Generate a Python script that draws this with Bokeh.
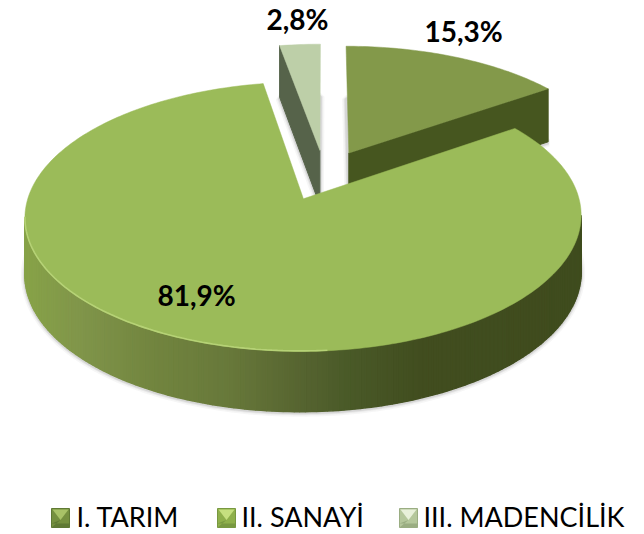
import numpy as np
from bokeh.plotting import figure
from bokeh.models import Range1d
from bokeh.core.properties import value
from bokeh.embed import file_html
from bokeh.resources import INLINE

categories = ["I. TARIM", "II. SANAYİ", "III. MADENCİLİK"]
shares = [15.3, 81.9, 2.8]
share_labels = ["15,3%", "81,9%", "2,8%"]

# colours
top_colors = ["#83994A", "#9BBB59", "#BDCFA8"]
cut_colors = ["#46561F", "#46561F", "#56634A"]
swatch_light = ["#A8C267", "#C6E07F", "#E8F0DA"]
swatch_mid = ["#75903F", "#8FB04B", "#B5C79C"]
swatch_dark = ["#5F7934", "#789840", "#9AAD82"]

# projection of the pie plane on the page (pixels)
CX, CY, A, B, K, EXPLODE, THICK = 324.0, 174.4, 269.0, 126.0, 0.13, 0.2, 55.5


def project(u, v):
    w = 1 + K * v
    return CX + A * u / w, CY - B * v / w, THICK * np.sqrt(1 / w)


def slice_geometry(start, end):
    mid = np.radians((start + end) / 2)
    ou, ov = EXPLODE * np.sin(mid), EXPLODE * np.cos(mid)
    th = np.radians(np.arange(start, end + 0.5, 1.0))
    th = np.append(th[th < np.radians(end)], np.radians(end))
    ax, ay, ad = project(ou, ov)
    rx, ry, rd = project(ou + np.sin(th), ov + np.cos(th))
    return (ax, ay, ad), (rx, ry, rd), th


def lerp_color(x, stops):
    xs = [s[0] for s in stops]
    cols = np.array([[int(s[1][i:i + 2], 16) for i in (1, 3, 5)] for s in stops], float)
    c = [np.interp(x, xs, cols[:, i]) for i in range(3)]
    return "#%02x%02x%02x" % tuple(int(round(v)) for v in c)


side_stops = [(26, "#87A248"), (80, "#80954A"), (150, "#72853F"), (230, "#67783A"),
              (300, "#566430"), (345, "#4A5A28"), (420, "#414D1F"), (590, "#3F4C1E")]

p = figure(width=644, height=534, toolbar_location=None, output_backend="svg",
           min_border=0, x_range=Range1d(0, 644), y_range=Range1d(534, 0))
p.axis.visible = False
p.grid.visible = False
p.outline_line_color = None

edges = np.cumsum([0] + shares) / sum(shares) * 360
geom = [slice_geometry(edges[i], edges[i + 1]) for i in range(3)]

# soft shadows under each slice
for i in (2, 0, 1):
    (ax, ay, ad), (rx, ry, rd), _ = geom[i]
    sx = np.r_[ax, rx]
    sy = np.r_[ay + ad, ry + rd]
    for lw, al in ((8, 0.05), (5, 0.08), (3, 0.12)):
        p.patch(sx, sy + 1, fill_color=None, line_color="#555555", line_alpha=al, line_width=lw)

# back slices then the big one: 2,8% / 15,3% / 81,9%
for i in (2, 0, 1):
    (ax, ay, ad), (rx, ry, rd), th = geom[i]
    if i == 2:
        # left cut face
        p.patch([ax, rx[0], rx[0], ax], [ay, ry[0], ry[0] + rd[0], ay + ad],
                fill_color=cut_colors[i], line_color=cut_colors[i])
    if i == 0:
        # right cut face
        p.patch([ax, rx[-1], rx[-1], ax], [ay, ry[-1], ry[-1] + rd[-1], ay + ad],
                fill_color=cut_colors[i], line_color=cut_colors[i])
    if i == 1:
        # outer wall from the rightmost to the leftmost point, darkening to the right
        jr, jl = int(np.argmax(rx)), int(np.argmin(rx))
        for j in range(jr, jl):
            col = lerp_color((rx[j] + rx[j + 1]) / 2, side_stops)
            p.patch([rx[j], rx[j + 1], rx[j + 1], rx[j]],
                    [ry[j], ry[j + 1], ry[j + 1] + rd[j + 1], ry[j] + rd[j]],
                    fill_color=col, line_color=col, line_width=1.5)
    # top face
    p.patch(np.r_[ax, rx], np.r_[ay, ry], fill_color=top_colors[i], line_color=top_colors[i],
            line_width=0.5)
    if i == 1:
        # light rim on the near-left edge of the big slice
        mask = (rx < 330) & (ry > 215)
        p.line(rx[mask], ry[mask] - 0.5, line_color="#B9D57A", line_width=1.6, line_alpha=0.9)

# value labels
label_x = [424, 157, 266]
label_y = [30, 294, 18]
p.text(label_x, label_y, text=share_labels, text_font=value("Lato"), text_font_style="bold",
       text_font_size="28px", text_color="#000000", text_align="left", text_baseline="middle")

# legend
swatch_x = [51, 217, 399]
text_x = [76, 241, 423]
SW, SY, SH = 18, 508, 19
for i in range(3):
    x0, x1, y0, y1 = swatch_x[i], swatch_x[i] + SW, SY, SY + SH
    xm, ym = (x0 + x1) / 2, y0 + SH * 0.6
    p.patch([x0, x1, x1, x0], [y0, y0, y1, y1], fill_color=swatch_mid[i], line_color=swatch_dark[i], line_width=1)
    p.patch([x0, x1, x1, x0, xm], [y1, y1, y1 - 4, y1 - 4, ym], fill_color=swatch_dark[i], line_color=None)
    p.patch([x0 + 1, x1 - 1, xm], [y0 + 1, y0 + 1, ym], fill_color=swatch_light[i], line_color=None)
p.text(text_x, [516] * 3, text=categories, text_font=value("Lato"), text_font_size="27px",
       text_color="#000000", text_align="left", text_baseline="middle")

open("out.html", "w").write(file_html(p, INLINE))
